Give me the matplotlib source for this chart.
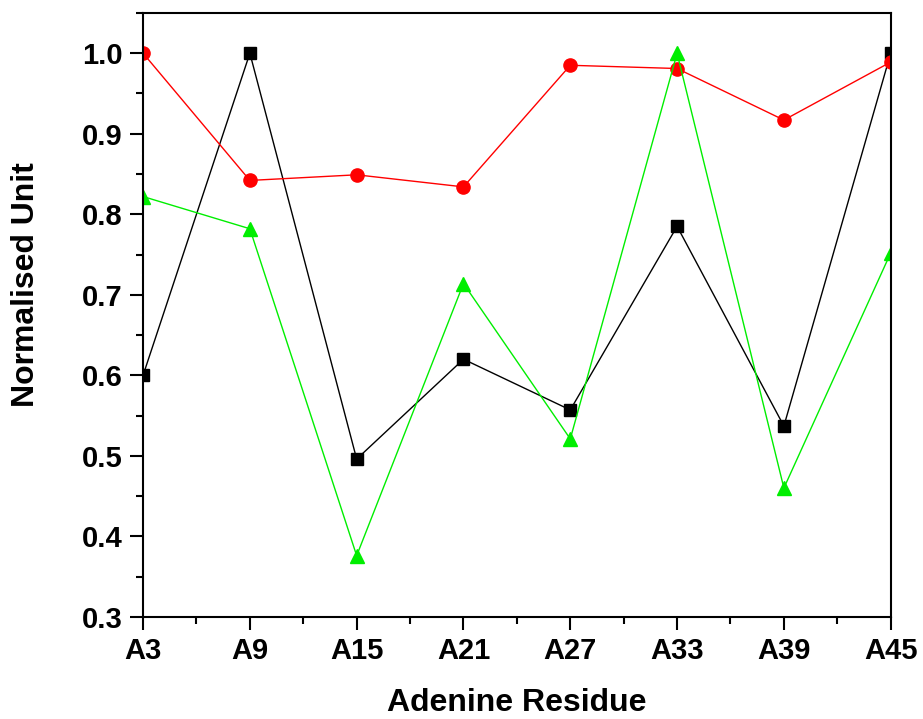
import numpy as np
import matplotlib
matplotlib.use('Agg')
import matplotlib.pyplot as plt
from matplotlib.ticker import MultipleLocator

plt.rcParams['font.family'] = ['Liberation Sans', 'DejaVu Sans']
plt.rcParams['font.weight'] = 'bold'

# data
residues = ['A3', 'A9', 'A15', 'A21', 'A27', 'A33', 'A39', 'A45']
black_vals = [0.600, 1.000, 0.496, 0.620, 0.557, 0.785, 0.537, 1.000]
red_vals = [1.000, 0.842, 0.849, 0.834, 0.985, 0.981, 0.917, 0.989]
green_vals = [0.822, 0.782, 0.376, 0.714, 0.521, 1.000, 0.460, 0.752]

x = np.arange(len(residues))

fig = plt.figure(figsize=(9.23, 7.19), dpi=100)
ax = fig.add_axes([0.155, 0.142, 0.81, 0.84])

ax.plot(x, black_vals, color='black', lw=1, marker='s', ms=8)
ax.plot(x, red_vals, color='#ff0000', lw=1, marker='o', ms=9.5)
ax.plot(x, green_vals, color='#00ee00', lw=1, marker='^', ms=10)

ax.set_xlim(0, len(residues) - 1)
ax.set_ylim(0.3, 1.05)
ax.set_xticks(x)
ax.set_xticklabels(residues)
ax.xaxis.set_minor_locator(MultipleLocator(0.5))
ax.yaxis.set_major_locator(MultipleLocator(0.1))
ax.yaxis.set_minor_locator(MultipleLocator(0.05))
ax.yaxis.set_major_formatter(matplotlib.ticker.FormatStrFormatter('%.1f'))

ax.tick_params(which='major', direction='out', length=9.5, width=1.5, labelsize=21, pad=5)
ax.tick_params(which='minor', direction='out', length=5, width=1.5)
ax.tick_params(axis='x', which='major', pad=5)
for s in ax.spines.values():
    s.set_linewidth(1.5)

ax.set_xlabel('Adenine Residue', fontsize=23, fontweight='bold')
ax.set_ylabel('Normalised Unit', fontsize=23, fontweight='bold')
ax.xaxis.set_label_coords(0.5, -0.118)
ax.yaxis.set_label_coords(-0.136, 0.55)

fig.savefig('out.png', dpi=100)
